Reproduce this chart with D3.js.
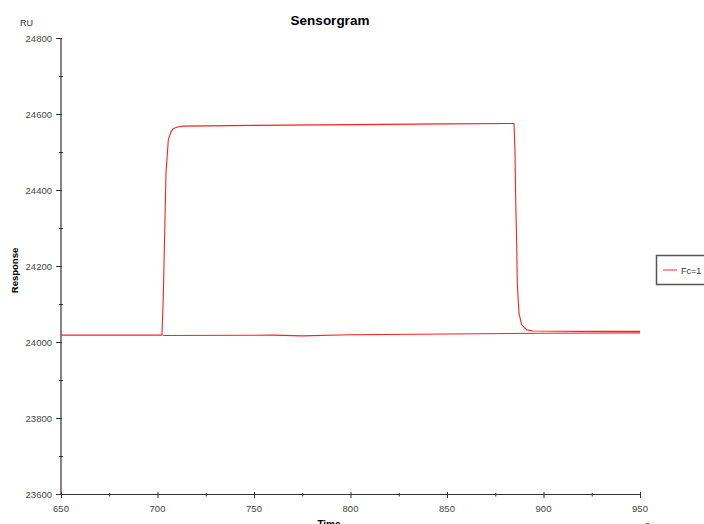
<!DOCTYPE html>
<html>
<head>
<meta charset="utf-8">
<script src="https://cdn.jsdelivr.net/npm/d3@7"></script>
<style>
  body { margin: 0; background: #fff; }
  text { font-family: "Liberation Sans", Arial, sans-serif; }
</style>
</head>
<body>
<div id="chart"></div>
<script>
// Fc=1 trace (time in s, response in RU)
var times  = [650, 680, 700, 702.3, 703.0, 703.9, 704.4, 705.6, 707.0, 708.2, 710.5, 713.2, 750, 800, 850, 884.7,
              885.2, 885.6, 886.1, 886.4, 887.3, 888.7, 891.3, 894.5, 920, 950];
var values = [24018, 24018, 24018, 24018, 24118, 24329, 24445, 24532, 24553, 24562, 24566, 24568, 24570, 24572, 24574, 24575,
              24505, 24374, 24260, 24155, 24076, 24045, 24032, 24029, 24028, 24028];
// second pass along the baseline
var times2  = [703, 760, 775, 800, 850, 900, 950];
var values2 = [24017, 24018, 24016, 24019, 24021, 24023, 24024];
var seriesName = "Fc=1";
var xTicks = [650, 700, 750, 800, 850, 900, 950];
var yTicks = [23600, 23800, 24000, 24200, 24400, 24600, 24800];

var W = 704, H = 524;
var svg = d3.select("#chart").append("svg")
    .attr("width", W)
    .attr("height", H);

var x = d3.scaleLinear().domain([650, 950]).range([61, 640]);
var y = d3.scaleLinear().domain([23600, 24800]).range([494, 38]);

var axisColor = "#333333";

// y axis
svg.append("line")
    .attr("x1", 61).attr("x2", 61)
    .attr("y1", y(24800)).attr("y2", y(23600))
    .attr("stroke", axisColor).attr("stroke-width", 1.2);

yTicks.forEach(function(v){
    svg.append("line")
        .attr("x1", 56).attr("x2", 62)
        .attr("y1", y(v) + 0.5).attr("y2", y(v) + 0.5)
        .attr("stroke", axisColor);
    svg.append("text")
        .text(v)
        .attr("x", 52)
        .attr("y", y(v) + 3.5)
        .attr("text-anchor", "end")
        .attr("font-size", "9.5px")
        .attr("fill", "#444");
});
//minor ticks
for (var v = 23700; v < 24800; v += 200){
    svg.append("line")
        .attr("x1", 59).attr("x2", 63)
        .attr("y1", y(v) + 0.5).attr("y2", y(v) + 0.5)
        .attr("stroke", axisColor);
}

// x axis
svg.append("line")
    .attr("x1", x(650)).attr("x2", x(950))
    .attr("y1", 494.5).attr("y2", 494.5)
    .attr("stroke", axisColor).attr("stroke-width", 1.2);

xTicks.forEach(function(t){
    svg.append("line")
        .attr("x1", x(t) + 0.5).attr("x2", x(t) + 0.5)
        .attr("y1", 492).attr("y2", 498)
        .attr("stroke", axisColor);
    svg.append("text")
        .text(t)
        .attr("x", x(t))
        .attr("y", 511.5)
        .attr("text-anchor", "middle")
        .attr("font-size", "9.5px")
        .attr("fill", "#444");
});
for (var t = 675; t < 950; t += 50){
    svg.append("line")
        .attr("x1", x(t) + 0.5).attr("x2", x(t) + 0.5)
        .attr("y1", 493).attr("y2", 496.5)
        .attr("stroke", axisColor);
}

// captions
svg.append("text")
    .text("Sensorgram")
    .attr("x", 330).attr("y", 25)
    .attr("text-anchor", "middle")
    .attr("font-size", "13.5px")
    .attr("font-weight", "bold")
    .attr("fill", "#000");

svg.append("text")
    .text("RU")
    .attr("x", 20).attr("y", 25.5)
    .attr("font-size", "9px")
    .attr("fill", "#333");

svg.append("text")
    .text("Response")
    .attr("transform", "translate(18,270.5) rotate(-90)")
    .attr("text-anchor", "middle")
    .attr("font-size", "9.5px")
    .attr("font-weight", "bold")
    .attr("fill", "#000");

// axis title and unit sit at the bottom edge, partly cut as in the original
svg.append("text")
    .text("Time")
    .attr("x", 329).attr("y", 528)
    .attr("text-anchor", "middle")
    .attr("font-size", "10px")
    .attr("font-weight", "bold")
    .attr("fill", "#000");

svg.append("text")
    .text("s")
    .attr("x", 645).attr("y", 528)
    .attr("font-size", "9.5px")
    .attr("fill", "#333");

// trace
var line = d3.line()
    .x(function(d){ return x(d[0]); })
    .y(function(d){ return y(d[1]); });

[[times, values], [times2, values2]].forEach(function(s){
    var pts = s[0].map(function(t, i){ return [t, s[1][i]]; });
    svg.append("path")
        .datum(pts)
        .attr("d", line)
        .attr("fill", "none")
        .attr("stroke", "#ff2020")
        .attr("stroke-width", 1.1)
        .attr("stroke-linejoin", "round");
});

// legend
svg.append("rect")
    .attr("x", 656.5).attr("y", 255.5)
    .attr("width", 60).attr("height", 29)
    .attr("fill", "#fff")
    .attr("stroke", "#555")
    .attr("stroke-width", 1.5);

svg.append("line")
    .attr("x1", 663).attr("x2", 677)
    .attr("y1", 270).attr("y2", 270)
    .attr("stroke", "#ff5050")
    .attr("stroke-width", 1.2);

svg.append("text")
    .text(seriesName)
    .attr("x", 681).attr("y", 273.5)
    .attr("font-size", "9px")
    .attr("fill", "#333");
</script>
</body>
</html>
